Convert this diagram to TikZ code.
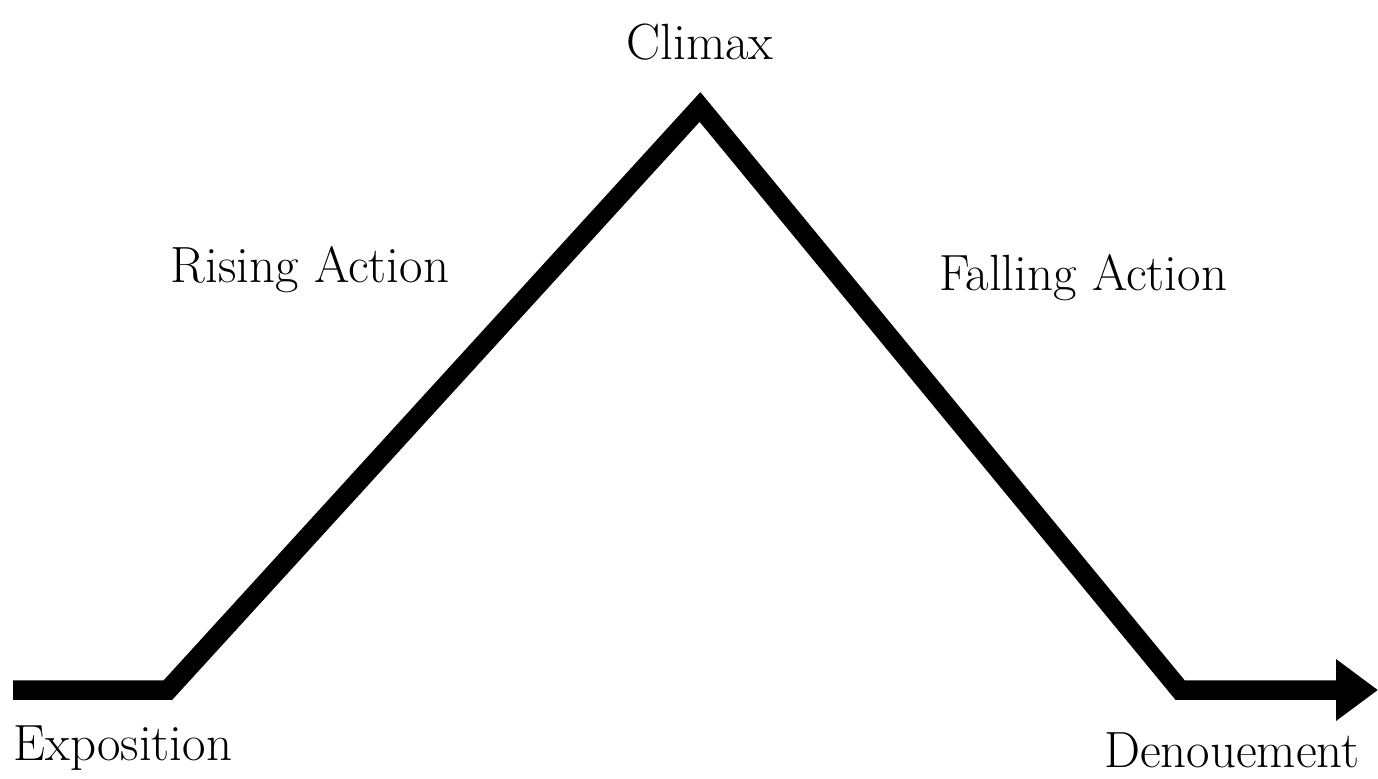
\documentclass[tikz,border=0pt]{standalone}
\usetikzlibrary{arrows.meta}
\begin{document}
\begin{tikzpicture}[x=0.02cm,y=-0.02cm,
  lbl/.style={font=\fontsize{29}{34}\selectfont, inner sep=0pt},
  plotline/.style={line width=0.39cm, line join=miter, -{Triangle[length=0.84cm,width=1.18cm]}}]
\useasboundingbox[fill=white] (0,0) rectangle (1378,778);
\coordinate (start) at (13,690);
\coordinate (expo) at (168,690);
\coordinate (peak) at (700,107);
\coordinate (fall) at (1180,690);
\coordinate (end) at (1378,690);
\draw[plotline] (start) -- (expo) -- (peak) -- (fall) -- (end);
\node[lbl] (climax) at (700,42) {Climax};
\node[lbl] (rising) at (310,270) {Rising Action};
\node[lbl] (falling) at (1083,278) {Falling Action};
\node[lbl, anchor=west] (exposition) at (13,748) {Exposition};
\node[lbl, anchor=east] (denouement) at (1360,750) {Denouement};
\end{tikzpicture}
\end{document}
